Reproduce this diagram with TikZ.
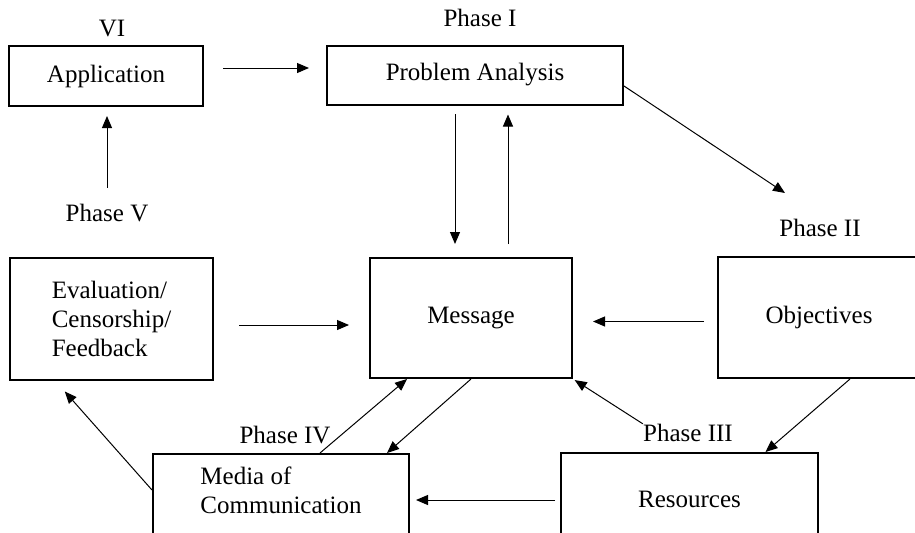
\documentclass[tikz,border=0pt]{standalone}
\usepackage{fontspec}
\setmainfont{Liberation Serif}
\usetikzlibrary{arrows.meta}

\begin{document}
\begin{tikzpicture}[
            x=0.5pt, y=-0.5pt,
            every node/.style={font=\fontsize{12.5}{14.5}\selectfont},
            box/.style={
                draw, line width=1pt, inner sep=0pt
            },
            phaselabel/.style={inner sep=0pt},
            arr/.style={-{Triangle[length=6pt, width=5pt]}, line width=0.5pt}
        ]
        \useasboundingbox (0,0) rectangle (915,532);
        \node[box, minimum width=97pt, minimum height=30pt] (app) at (106, 76) {Application};
        \node[box, minimum width=148pt, minimum height=29.5pt] (prob) at (475, 75) {Problem Analysis};
        \node[box, minimum width=101.5pt, minimum height=61pt, align=left] (eval) at (111.5, 319) {Evaluation/\\Censorship/\\Feedback};
        \node[box, minimum width=101pt, minimum height=60pt] (msg) at (471, 318) {Message};
        \node[box, minimum width=101pt, minimum height=60.5pt] (obj) at (819, 317.5) {Objectives};
        \node[box, minimum width=128.5pt, minimum height=46pt] (res) at (689.5, 499) {Resources};
        \node[box, minimum width=128pt, minimum height=45.5pt, align=left, text depth=9pt] (media) at (281, 499.5) {Media of\\Communication};

        % phase labels
        \node[phaselabel] (p6) at (112, 28) {VI};
        \node[phaselabel] (p1) at (480, 18) {Phase I};
        \node[phaselabel] (p2) at (820, 228) {Phase II};
        \node[phaselabel] (p3) at (688, 433) {Phase III};
        \node[phaselabel] (p4) at (285, 435) {Phase IV};
        \node[phaselabel] (p5) at (107, 213) {Phase V};

        % arrows
        \draw[arr, shorten <=9.5pt, shorten >=8.5pt] ([yshift=4pt]app.east) -- ([yshift=4pt]app.east -| prob.west);
        \draw[arr, shorten <=8pt, shorten >=4.5pt] (p5.north) -- (p5.north |- app.south);
        \draw[arr, shorten <=4.25pt, shorten >=6.5pt] ([xshift=-10pt]prob.south) -- ([xshift=-10pt]prob.south |- msg.north);
        \draw[arr, shorten <=6.5pt, shorten >=4.5pt] ([xshift=18.5pt]msg.north) -- ([xshift=18.5pt]msg.north |- prob.south);
        \draw[arr] ([yshift=-5.5pt]prob.east) -- ([shift={(-35,-35)}]p2.center);
        \draw[arr, shorten <=6.5pt, shorten >=10pt] ([yshift=-2pt]obj.west) -- ([yshift=-2pt]obj.west -| msg.east);
        \draw[arr, shorten <=12.5pt, shorten >=10pt] ([yshift=-3pt]eval.east) -- ([yshift=-3pt]eval.east -| msg.west);
        \draw[arr] ([xshift=15.5pt]obj.south) -- ([xshift=38pt]res.north);
        \draw[arr, shorten >=1pt] (p3.north west) -- (msg.south east);
        \draw[arr] (msg.south) -- ([xshift=53pt]media.north);
        \draw[arr] ([xshift=19.5pt]media.north) -- ([xshift=-32pt]msg.south);
        \draw[arr, shorten <=2.5pt, shorten >=3pt] ([yshift=-0.5pt]res.west) -- ([yshift=-0.5pt]res.west -| media.east);
        \draw[arr, shorten >=7pt] ([yshift=4.75pt]media.west) -- ([xshift=-28pt]eval.south);
        \end{tikzpicture}
\end{document}
